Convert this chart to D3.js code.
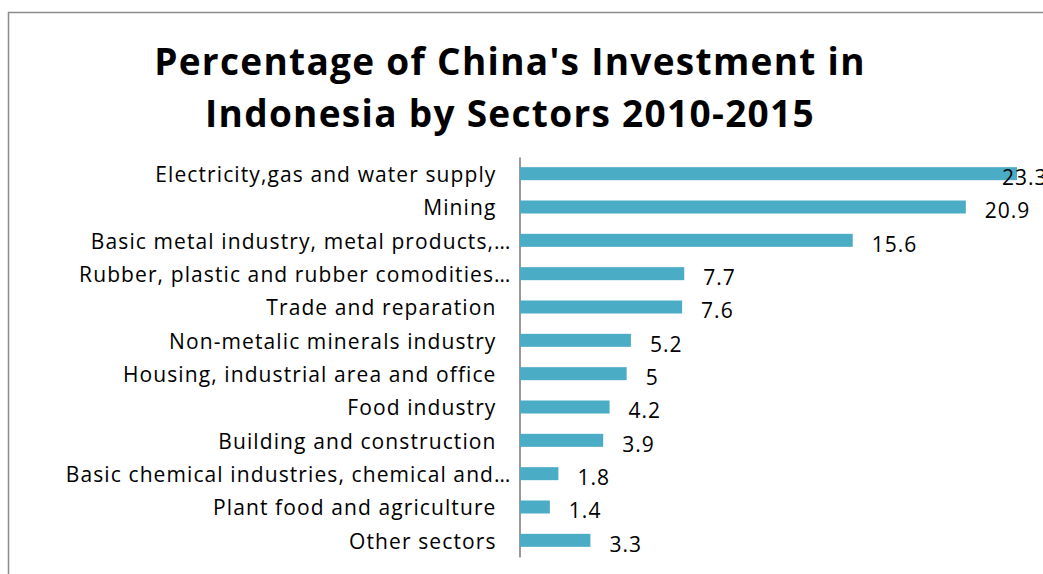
<!DOCTYPE html>
<meta charset="utf-8">
<style>
body { margin: 0; background: #fff; }
.title { font: bold 37px "Open Sans", sans-serif; letter-spacing: 1.3px; text-anchor: middle; fill: #000; }
.axis text { font: 21px "Open Sans", sans-serif; letter-spacing: 1.1px; fill: #000; }
.axis path { stroke: #999; stroke-width: 2; }
.val { font: 21px "Open Sans", sans-serif; letter-spacing: 1px; fill: #000; }
</style>
<body>
<script src="https://d3js.org/d3.v7.min.js"></script>
<script>

var categories = [
  "Electricity,gas and water supply",
  "Mining",
  "Basic metal industry, metal products,\u2026",
  "Rubber, plastic and rubber comodities\u2026",
  "Trade and reparation",
  "Non-metalic minerals industry",
  "Housing, industrial area and office",
  "Food industry",
  "Building and construction",
  "Basic chemical industries, chemical and\u2026",
  "Plant food and agriculture",
  "Other sectors"
];
var values = [23.3, 20.9, 15.6, 7.7, 7.6, 5.2, 5, 4.2, 3.9, 1.8, 1.4, 3.3];
var titleLines = ["Percentage of China's Investment in", "Indonesia by Sectors 2010-2015"];

var width = 1043, height = 574;

var svg = d3.select("body").append("svg")
    .attr("width", width)
    .attr("height", height);

// chart frame (only top and left edges visible)
svg.append("path")
    .attr("d", "M8.5," + height + "V12.5H" + width)
    .attr("fill", "none")
    .attr("stroke", "#8c8c8c")
    .attr("stroke-width", 1.5);

svg.selectAll(".title")
    .data(titleLines)
  .enter().append("text")
    .attr("class", "title")
    .attr("x", 510)
    .attr("y", function(d, i) { return 75 + i * 52; })
    .text(function(d) { return d; });

var x = d3.scaleLinear()
    .domain([0, 23.3])
    .range([520, 1017]);

var y = d3.scaleBand()
    .domain(categories)
    .range([157, 557]);

var barH = 13;

svg.append("g")
    .attr("class", "axis")
    .attr("transform", "translate(519.5,0)")
    .call(d3.axisLeft(y).tickSize(0).tickPadding(24))
    .call(function(g) {
      g.selectAll("text")
          .attr("dy", "0.4em")
          // truncated labels run their ellipsis closer to the axis
          .attr("x", function(d) { return /\u2026$/.test(d) ? -8 : -23; });
    });

svg.selectAll(".bar")
    .data(values)
  .enter().append("rect")
    .attr("class", "bar")
    .attr("x", x(0))
    .attr("y", function(d, i) { return y(categories[i]) + (y.bandwidth() - barH) / 2; })
    .attr("width", function(d) { return x(d) - x(0); })
    .attr("height", barH)
    .attr("fill", "#4bacc6");

svg.selectAll(".val")
    .data(values)
  .enter().append("text")
    .attr("class", "val")
    .attr("x", function(d) { return Math.min(x(d) + 19, 1002); })
    .attr("y", function(d, i) { return y(categories[i]) + y.bandwidth() / 2 + 4; })
    .attr("dy", "0.35em")
    .text(function(d) { return d; });

</script>
